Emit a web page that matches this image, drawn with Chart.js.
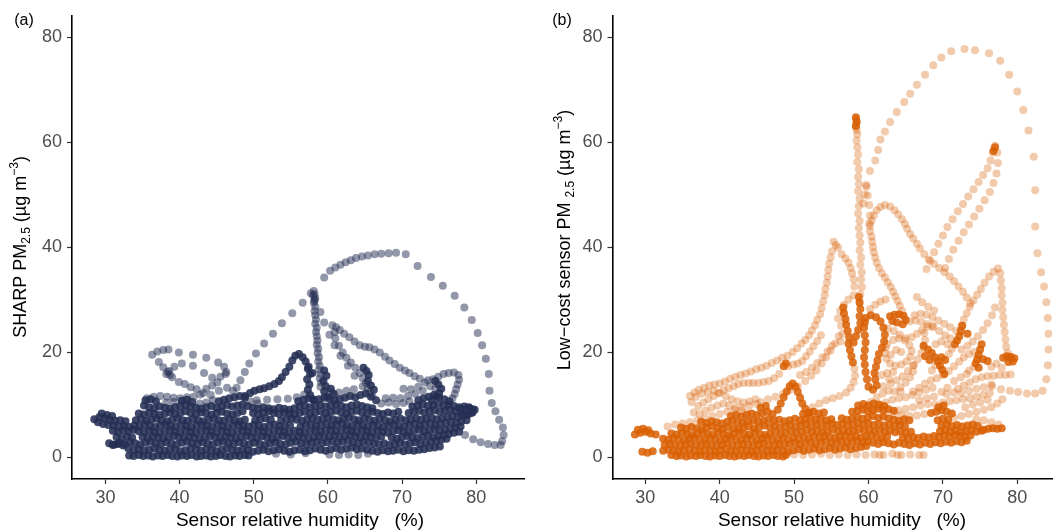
<!DOCTYPE html>
<html>
<head>
<meta charset="utf-8">
<script src="https://cdn.jsdelivr.net/npm/chart.js@4.4.0/dist/chart.umd.min.js"></script>
<style>
html, body { margin: 0; padding: 0; background: #fff; }
#wrap { position: relative; width: 1056px; height: 532px; overflow: hidden; }
.panel { position: absolute; top: 0; width: 528px; height: 532px; }
</style>
</head>
<body>
<div id="wrap">
  <div class="panel" style="left:0"><canvas id="sharpChart" width="528" height="532"></canvas></div>
  <div class="panel" style="left:528px"><canvas id="lcsChart" width="528" height="532"></canvas></div>
</div>
<script>
// tick labels
const rhTicks = [30, 40, 50, 60, 70, 80];
const pmTicks = [0, 20, 40, 60, 80];

// ---- (a) SHARP PM2.5 vs sensor RH, [rh, pm] ----
const sharpArc = [[47.7,13.2],[48.2,14.6],[48.8,16.2],[49.4,17.8],[50.3,19.7],[51.4,21.6],[52.6,23.5],[53.8,25.5],[55.2,27.4],[56.6,29.4],[57.7,31.2],[59.5,34.2],[60.3,35.5],[61.0,36.1],[61.7,36.6],[62.4,37.1],[63.1,37.5],[63.8,37.9],[64.6,38.2],[65.4,38.4],[66.3,38.6],[67.2,38.7],[68.2,38.8],[69.2,38.9],[70.5,38.6],[72.1,36.4],[73.9,34.3],[75.5,32.6],[77.1,30.7],[78.4,28.5],[79.4,26.1],[80.2,23.6],[80.8,21.3],[81.3,18.7],[81.7,15.8],[81.8,12.6],[82.1,10.3],[82.6,8.7],[83.1,7.1],[83.6,5.6],[83.7,4.2],[83.5,3.0],[83.3,2.3],[82.5,2.3],[81.6,2.5],[80.6,2.8],[79.6,3.4],[78.5,4.2]];
const sharpSpike = [[58.1,31.6],[58.0,30.8],[58.2,30.0],[58.1,29.4],[58.3,28.6],[58.2,27.8],[58.3,27.0],[58.4,26.2],[58.3,25.4],[58.5,24.6],[58.4,23.8],[58.5,23.0],[58.6,22.2],[58.5,21.4],[58.7,20.6],[58.6,19.8],[58.8,19.0],[58.7,18.2],[58.9,17.4],[58.8,16.6],[59.0,15.8],[58.9,15.0],[59.1,14.2],[59.0,13.4],[58.2,31.0],[58.3,30.3],[58.2,29.7],[59.0,27.6],[59.5,25.6],[60.2,23.3],[60.9,21.3],[61.7,19.3],[62.7,17.4],[63.6,15.5],[64.7,13.5],[66.0,11.6]];
const sharpRidge = [[60.6,25.1],[61.1,24.7],[61.6,24.2],[62.2,23.5],[62.9,22.8],[63.6,22.0],[64.3,21.3],[65.0,21.0],[65.6,20.9],[66.3,20.5],[67.0,19.9],[67.7,19.1],[68.3,18.4],[69.0,17.7],[69.7,17.0],[70.4,16.5],[71.0,16.0],[71.7,15.4],[72.4,14.9],[73.1,14.2],[73.8,13.5],[74.5,13.0],[60.9,23.8],[61.0,22.6],[61.5,21.2],[62.0,19.9],[62.5,18.9],[63.1,18.0],[63.7,17.0],[64.3,16.0],[64.7,15.0],[65.1,14.1],[65.4,13.1],[65.6,12.2]];
const sharpUpperLeft = [[36.3,19.5],[37.0,20.1],[37.8,20.4],[38.5,20.5],[39.9,19.9],[41.8,19.5],[43.6,18.9],[45.2,18.0],[46.0,17.2],[46.3,16.2],[37.2,18.1],[37.8,17.1],[38.6,16.4],[39.3,17.2],[40.3,17.8],[41.8,17.4],[43.3,16.0],[44.4,15.1],[45.5,15.3],[46.2,15.8],[38.2,15.8],[39.0,15.2],[39.9,14.3],[40.7,13.9],[41.5,13.3],[42.3,12.9],[43.2,12.2],[44.2,11.8],[45.3,12.6],[46.4,13.2],[47.2,12.6],[35.6,11.2],[36.5,11.5],[37.4,11.6],[38.3,11.5],[39.2,11.3],[40.1,11.2],[41.0,11.4],[41.9,11.5],[42.8,11.9],[43.6,13.0],[44.4,13.6],[45.1,14.2],[38.4,16.2],[38.7,15.6]];
const sharpRight = [[50.4,10.8],[51.8,10.9],[53.2,11.0],[54.6,11.1],[55.8,11.4],[56.8,11.9],[73.5,14.6],[74.2,14.8],[74.9,15.3],[75.6,15.8],[76.3,16.0],[77.0,16.1],[77.6,15.6],[77.7,14.7],[77.5,13.8],[77.3,12.9],[77.1,12.0],[76.8,11.2],[67.8,11.2],[68.8,11.3],[69.8,11.2],[70.8,11.6],[71.8,12.0],[72.8,12.6],[70.2,13.0],[71.2,12.9],[72.2,13.4],[53.0,0.6],[55.0,0.5],[57.0,0.7],[60.2,0.5],[61.5,0.4],[62.8,0.5],[64.1,0.4],[65.4,0.6]];
const sharpFringe = [[44.5,10.8],[43.6,10.4],[42.7,10.2],[38.2,10.4],[39.2,10.5],[49.5,10.6],[50.5,10.2],[67.2,10.2],[68.2,10.4],[69.2,10.1],[70.2,10.3],[71.0,10.6],[60.5,12.4],[61.5,12.3],[62.5,12.6],[63.5,12.9]];
const sharpDark = [[48.8,11.6],[49.5,12.2],[50.1,12.6],[50.8,12.9],[51.4,13.1],[52.1,13.5],[52.8,13.9],[53.4,14.5],[53.8,15.2],[54.3,16.2],[54.8,17.2],[55.2,18.4],[55.6,19.3],[56.1,19.6],[56.6,19.0],[57.0,18.2],[57.4,17.2],[57.9,16.0],[57.3,16.8],[57.6,15.8],[57.2,14.8],[57.5,13.8],[57.3,12.8],[57.6,11.8],[58.0,11.0],[59.5,16.5],[59.8,15.5],[59.4,14.5],[59.7,13.5],[59.5,12.5],[59.9,11.5],[60.4,13.0],[60.8,12.0],[64.8,17.0],[65.2,16.4],[65.5,15.6],[65.4,14.5],[65.8,13.6],[66.2,12.8],[74.5,14.5],[74.9,13.8],[75.3,13.0],[75.0,12.2],[74.6,11.5],[74.0,10.8],[77.8,9.2],[78.4,9.6],[79.0,9.5],[79.5,9.1],[79.3,8.4],[78.7,8.0],[78.0,8.2]];
const sharpCore0 = [[33.2,0.3],[33.8,0.2],[34.5,0.4],[35.1,0.2],[35.8,0.3],[36.4,0.1],[37.1,0.3],[37.7,0.2],[38.4,0.4],[39.0,0.2],[39.7,0.1],[40.3,0.3],[41.0,0.2],[41.6,0.4],[42.3,0.1],[42.9,0.2],[43.6,0.3],[44.2,0.1],[44.9,0.2],[45.5,0.4],[46.2,0.2],[46.8,0.1],[47.5,0.3],[48.1,0.2],[48.8,0.4],[49.3,0.3]];
const sharpCore1 = [[31.0,2.3],[31.7,2.5],[32.4,2.2],[33.1,1.6],[33.8,1.3],[34.5,1.5],[35.2,1.2],[35.9,1.4],[36.6,1.6],[37.3,1.3],[38.0,1.2],[38.7,1.5],[39.4,1.4],[40.1,1.1],[40.8,1.3],[41.5,1.6],[42.2,1.4],[42.9,1.2],[43.6,1.5],[44.3,1.3],[45.0,1.1],[45.7,1.4],[46.4,1.6],[47.1,1.3],[47.8,1.2],[48.5,1.5],[49.2,1.3],[49.9,1.0],[50.6,1.2],[51.3,1.4],[52.0,1.1],[52.7,1.3],[53.4,1.5],[54.1,1.2],[54.8,1.0],[55.5,1.3],[56.2,1.4],[56.9,1.1],[57.6,1.3],[58.3,1.6],[59.0,1.4],[59.7,1.2],[60.4,1.5],[61.1,1.7],[61.8,1.4],[62.5,1.6],[63.2,1.8],[63.9,1.5],[64.6,1.6],[65.3,1.4],[66.0,1.2],[66.7,1.0],[67.4,1.3],[68.1,1.1],[68.8,1.2],[69.5,1.4],[70.2,1.1],[70.9,1.3],[71.6,1.2],[72.3,1.4],[73.0,1.5],[73.7,1.7],[74.4,1.8],[75.1,2.0]];
const sharpCore2 = [[30.5,2.6],[31.2,2.4],[31.9,2.7],[32.6,2.5],[33.3,2.8],[34.0,2.6],[34.7,2.4],[35.4,2.7],[36.1,2.9],[36.8,2.6],[37.5,2.5],[38.2,2.8],[38.9,2.6],[39.6,2.4],[40.3,2.7],[41.0,2.9],[41.7,2.6],[42.4,2.5],[43.1,2.8],[43.8,2.6],[44.5,2.4],[45.2,2.7],[45.9,2.9],[46.6,2.6],[47.3,2.5],[48.0,2.8],[48.7,2.6],[49.4,2.4],[50.1,2.7],[50.8,2.5],[51.5,2.3],[52.2,2.6],[52.9,2.8],[53.6,2.5],[54.3,2.4],[55.0,2.7],[55.7,2.9],[56.4,2.6],[57.1,2.4],[57.8,2.7],[58.5,2.9],[59.2,2.6],[59.9,2.8],[60.6,3.0],[61.3,2.7],[62.0,2.9],[62.7,3.1],[63.4,2.8],[64.1,2.6],[64.8,2.9],[65.5,2.7],[66.2,2.5],[66.9,2.4],[67.6,2.6],[68.3,2.3],[69.0,2.5],[69.7,2.7],[70.4,2.4],[71.1,2.6],[71.8,2.8],[72.5,2.5],[73.2,2.7],[73.9,2.9],[74.6,3.1],[75.3,3.3],[76.0,3.5]];
const sharpCore3 = [[31.5,3.8],[32.2,3.6],[32.9,3.9],[33.6,3.7],[35.0,3.8],[35.7,3.6],[36.4,3.9],[37.1,3.7],[37.8,3.5],[38.5,3.8],[39.2,4.0],[39.9,3.7],[40.6,3.6],[41.3,3.9],[42.0,3.7],[42.7,3.5],[43.4,3.8],[44.1,4.0],[44.8,3.7],[45.5,3.6],[46.2,3.9],[46.9,3.7],[47.6,3.5],[48.3,3.8],[49.0,4.0],[49.7,3.7],[50.4,3.6],[51.1,3.9],[51.8,3.7],[52.5,3.5],[53.2,3.8],[53.9,4.0],[54.6,3.7],[55.3,3.6],[56.0,3.9],[56.7,3.7],[57.4,3.5],[58.1,3.8],[58.8,4.0],[59.5,3.7],[60.2,3.9],[60.9,4.1],[61.6,3.8],[62.3,4.0],[63.0,4.2],[63.7,3.9],[64.4,3.7],[65.1,4.0],[65.8,3.8],[66.5,3.6],[67.2,3.9],[68.6,3.7],[69.3,3.5],[70.0,3.8],[70.7,4.0],[71.4,3.7],[72.1,3.6],[72.8,3.9],[73.5,4.1],[74.2,3.8],[74.9,4.0],[75.6,4.2],[76.3,4.4],[77.0,4.6],[77.7,4.8]];
const sharpCore4 = [[31.0,5.0],[31.7,4.8],[32.4,5.1],[33.1,4.9],[33.8,5.2],[34.5,4.9],[35.2,4.7],[35.9,5.0],[36.6,4.8],[37.3,4.6],[38.0,4.9],[38.7,5.1],[39.4,4.8],[40.1,4.7],[40.8,5.0],[41.5,4.8],[42.2,4.6],[42.9,4.9],[43.6,5.1],[44.3,4.8],[45.0,4.7],[45.7,5.0],[46.4,4.8],[47.1,4.6],[47.8,4.9],[48.5,5.1],[49.2,4.8],[49.9,4.7],[50.6,5.0],[51.3,4.8],[52.0,4.6],[52.7,4.9],[53.4,5.1],[54.1,4.8],[54.8,4.7],[55.5,5.0],[56.2,4.8],[56.9,4.6],[57.6,4.9],[58.3,5.1],[59.0,4.8],[59.7,5.0],[60.4,5.2],[61.1,4.9],[61.8,5.1],[62.5,5.3],[63.2,5.0],[63.9,4.8],[64.6,5.1],[65.3,4.9],[66.0,4.7],[66.7,5.0],[67.4,4.8],[68.1,4.6],[68.8,4.9],[69.5,5.1],[70.2,4.8],[70.9,4.7],[71.6,5.0],[72.3,5.2],[73.0,4.9],[73.7,5.1],[74.4,5.3],[75.1,5.0],[75.8,5.2],[76.5,5.4],[77.2,5.6],[77.9,5.8]];
const sharpCore5 = [[29.0,6.6],[29.7,6.3],[30.4,6.1],[31.1,6.0],[31.8,5.8],[32.5,5.9],[33.2,5.7],[33.9,6.0],[34.6,5.8],[35.3,6.1],[36.0,5.9],[36.7,5.7],[37.4,6.0],[38.1,6.2],[38.8,5.9],[39.5,5.8],[40.2,6.1],[40.9,5.9],[41.6,5.7],[42.3,6.0],[43.0,6.2],[43.7,5.9],[44.4,5.8],[45.1,6.1],[45.8,5.9],[46.5,5.7],[47.2,6.0],[47.9,6.2],[48.6,5.9],[49.3,5.8],[50.0,6.1],[50.7,5.9],[51.4,5.7],[52.1,6.0],[52.8,6.2],[53.5,5.9],[54.2,5.8],[54.9,6.1],[56.3,5.7],[57.0,6.0],[57.7,6.2],[58.4,5.9],[59.1,6.1],[59.8,6.3],[60.5,6.0],[61.2,6.2],[61.9,6.4],[62.6,6.1],[63.3,5.9],[64.0,6.2],[64.7,6.0],[65.4,5.8],[66.1,6.1],[66.8,5.9],[67.5,5.7],[68.2,6.0],[68.9,6.2],[69.6,5.9],[70.3,5.8],[71.0,6.1],[71.7,6.3],[72.4,6.0],[73.1,6.2],[73.8,6.4],[74.5,6.1],[75.2,6.3],[75.9,6.5],[76.6,6.7],[77.3,6.5],[78.0,6.8],[78.7,7.0]];
const sharpCore6 = [[28.5,7.2],[29.2,7.6],[29.9,7.4],[30.6,7.1],[31.3,6.9],[32.0,7.0],[32.7,6.8],[34.1,7.0],[34.8,7.2],[35.5,6.9],[36.2,7.1],[36.9,7.3],[37.6,7.0],[38.3,6.8],[39.0,7.1],[39.7,7.3],[40.4,7.0],[41.1,6.9],[41.8,7.2],[42.5,7.0],[43.2,6.8],[43.9,7.1],[44.6,7.3],[45.3,7.0],[46.0,6.9],[46.7,7.2],[47.4,7.0],[48.1,6.8],[48.8,7.1],[50.2,7.0],[50.9,7.2],[51.6,7.4],[52.3,7.1],[53.7,7.0],[54.4,7.2],[55.1,7.4],[55.8,7.1],[56.5,6.9],[57.2,7.2],[57.9,7.4],[58.6,7.1],[59.3,7.3],[60.0,7.5],[60.7,7.2],[61.4,7.0],[62.1,7.3],[62.8,7.5],[63.5,7.2],[64.2,7.0],[64.9,7.3],[65.6,7.1],[66.3,6.9],[67.0,7.2],[67.7,7.0],[68.4,6.8],[69.1,7.1],[69.8,7.3],[70.5,7.0],[71.2,7.2],[71.9,7.4],[72.6,7.1],[73.3,7.3],[74.0,7.5],[74.7,7.2],[75.4,7.4],[76.1,7.6],[76.8,7.8],[77.5,7.6],[78.2,7.9],[78.9,8.1],[79.5,8.5]];
const sharpCore7 = [[29.5,8.3],[30.2,8.0],[30.9,7.8],[34.5,8.3],[35.2,8.1],[35.9,8.4],[36.6,8.2],[37.3,8.0],[38.0,8.3],[38.7,8.5],[39.4,8.2],[40.1,8.4],[40.8,8.7],[41.5,8.4],[42.2,8.2],[42.9,8.5],[43.6,8.3],[44.3,8.1],[45.0,8.4],[45.7,8.6],[46.4,8.3],[47.1,8.1],[47.8,8.4],[48.5,8.7],[49.9,8.4],[50.6,8.2],[51.3,8.5],[52.0,8.7],[52.7,8.4],[53.4,8.2],[54.1,8.5],[54.8,8.3],[55.5,8.1],[56.2,8.4],[56.9,8.6],[57.6,8.3],[58.3,8.5],[59.0,8.7],[59.7,8.4],[60.4,8.6],[61.1,8.8],[61.8,8.5],[62.5,8.3],[63.2,8.6],[63.9,8.8],[64.6,8.5],[65.3,8.3],[66.0,8.6],[66.7,8.4],[67.4,8.2],[68.1,8.5],[68.8,8.3],[69.5,8.6],[70.9,8.4],[71.6,8.6],[72.3,8.8],[73.0,8.5],[73.7,8.7],[74.4,8.9],[75.1,8.6],[75.8,8.8],[76.5,9.0],[77.2,8.8],[79.8,9.0]];
const sharpCore8 = [[35.2,9.8],[35.9,9.5],[36.6,9.3],[37.3,9.6],[38.0,9.4],[38.7,9.2],[39.4,9.5],[40.1,9.7],[40.8,9.9],[41.5,9.6],[42.2,9.4],[42.9,9.2],[43.6,9.5],[44.3,9.7],[45.0,9.4],[45.7,9.6],[46.4,9.9],[47.1,9.6],[47.8,9.8],[48.5,10.0],[49.2,9.7],[49.9,9.4],[50.6,9.2],[51.3,9.5],[52.0,9.3],[52.7,9.1],[53.4,9.4],[54.1,9.2],[54.8,9.0],[55.5,9.3],[56.2,9.6],[56.9,9.8],[57.6,9.5],[58.3,9.7],[59.0,9.9],[59.7,9.6],[60.4,9.8],[61.1,10.0],[61.8,9.7],[62.5,9.5],[63.2,9.8],[63.9,10.0],[64.6,9.7],[65.3,9.5],[66.0,9.3],[71.4,9.6],[72.1,9.8],[72.8,10.0],[73.5,9.7],[74.2,9.9],[74.9,10.1],[75.6,9.8],[76.3,10.0],[77.0,9.7],[77.7,9.5],[78.4,9.1],[79.1,9.3]];
const sharpCore9 = [[35.4,10.8],[36.1,11.0],[36.8,10.6],[40.3,10.7],[41.0,10.9],[41.7,10.5],[45.3,10.6],[46.0,10.9],[46.7,11.2],[47.4,11.4],[48.1,11.6],[48.8,11.3],[56.0,10.6],[56.7,10.9],[57.4,11.2],[58.1,10.8],[58.8,11.0],[59.5,11.3],[60.2,11.1],[60.9,10.8],[61.6,11.0],[62.3,11.3],[63.0,11.6],[63.7,11.4],[64.4,11.8],[65.1,12.1],[65.8,11.5],[66.5,10.8],[72.2,10.8],[72.9,11.2],[73.6,11.5],[74.3,11.8],[75.0,11.4],[75.7,11.0],[76.4,10.6]];

// ---- (b) low-cost sensor PM2.5 vs sensor RH ----
const lcsArc = [[59.3,48.3],[59.5,50.0],[59.7,51.8],[60.2,54.5],[60.9,56.5],[61.3,58.5],[61.6,60.5],[62.2,62.0],[62.9,63.8],[63.8,65.7],[64.8,67.6],[65.6,69.2],[66.5,70.9],[67.6,72.8],[68.7,74.6],[69.8,76.1],[71.1,77.3],[72.9,77.7],[74.3,77.5],[76.2,76.9],[77.7,75.5],[78.9,72.8],[80.0,69.6],[80.8,66.1],[81.5,62.2],[82.2,57.2],[82.4,50.8],[82.4,43.9],[82.7,38.8],[83.2,35.2],[83.6,32.5],[83.9,29.5],[84.1,26.5],[84.2,23.5],[84.2,20.5],[84.1,17.5],[83.9,14.8],[83.4,12.6],[82.4,12.1],[81.3,12.1],[80.1,12.4],[79.0,12.6],[77.8,12.9],[76.6,13.5]];
const lcsColumn = [[58.3,64.8],[58.4,64.0],[58.3,63.2],[58.4,62.3],[58.5,61.5],[58.4,60.3],[58.5,59.0],[58.6,57.6],[58.5,56.2],[58.7,54.8],[58.6,53.4],[58.7,52.0],[58.6,50.6],[58.8,49.2],[58.7,47.8],[58.6,46.4],[58.8,45.0],[58.7,43.6],[58.8,42.2],[58.9,40.8],[58.8,39.4],[59.0,38.0],[58.9,36.6],[59.1,35.2],[59.0,33.8],[59.1,32.4],[58.9,31.0],[58.8,29.6],[59.7,51.5],[59.9,49.8],[60.1,48.0],[60.2,46.0],[60.1,44.5]];
const lcsLoop = [[62.2,48.0],[61.6,47.6],[61.1,47.0],[60.7,46.0],[60.4,45.0],[60.2,44.0],[60.2,43.0],[60.4,42.0],[60.5,41.0],[60.6,40.0],[60.7,39.0],[60.9,38.0],[61.1,37.0],[61.4,36.0],[61.8,35.0],[62.2,34.2],[62.6,33.3],[63.0,32.4],[63.3,31.5],[63.6,30.6],[63.9,29.7],[64.2,28.8],[64.5,27.8],[62.9,47.7],[63.5,47.0],[64.0,46.2],[64.5,45.3],[64.9,44.4],[65.2,43.5],[65.6,42.5],[66.0,41.6],[66.5,40.6],[66.9,39.7],[67.5,38.6],[68.1,37.6],[68.8,36.8],[69.5,36.0],[70.2,35.2],[70.9,34.4],[71.5,33.5],[72.1,32.5],[72.7,31.5],[73.2,30.4],[73.7,29.3]];
const lcsRise = [[77.0,59.3],[76.7,58.0],[76.4,56.5],[76.0,55.0],[75.4,53.7],[74.8,52.4],[74.1,51.0],[73.4,49.6],[72.7,48.2],[72.0,46.8],[71.3,45.3],[70.6,43.8],[70.0,42.2],[69.4,40.6],[68.8,39.0],[68.3,37.4],[67.8,35.8],[77.3,58.0],[77.4,56.0],[77.2,54.0],[76.8,52.2],[76.3,50.5],[75.6,48.9],[74.9,47.3],[74.2,45.8],[73.5,44.3],[72.8,42.8],[72.1,41.2],[71.4,39.5],[70.8,37.7],[70.3,36.0],[77.4,35.9],[76.8,35.3],[76.2,34.4],[75.6,33.2],[75.1,32.0],[74.6,30.9],[74.1,29.8],[73.6,28.6],[73.2,27.4],[72.8,26.2],[72.5,25.0],[77.7,35.0],[77.8,33.6],[77.9,32.2],[77.9,30.8],[78.0,29.4],[78.0,28.0],[78.1,26.6],[78.2,25.2],[78.3,23.8],[78.4,22.4],[78.5,21.0],[78.7,19.8],[79.0,18.8]];
const lcsPeak = [[55.3,41.0],[55.6,40.4],[55.9,39.9],[55.1,39.2],[54.9,38.0],[54.7,36.8],[54.6,35.6],[54.5,34.4],[54.4,33.2],[54.2,32.0],[54.1,30.8],[53.9,29.6],[53.7,28.4],[53.5,27.2],[53.1,26.1],[52.8,25.1],[52.4,24.1],[52.0,23.2],[51.5,22.3],[51.0,21.6],[50.4,20.7],[49.8,20.0],[49.1,19.3],[48.4,18.9],[47.7,18.4],[47.0,17.9],[46.3,17.4],[45.6,17.0],[44.9,16.7],[44.2,16.3],[43.5,15.9],[42.8,15.6],[42.1,15.3],[41.4,14.9],[40.7,14.4],[40.0,14.0],[39.3,13.8],[38.6,13.6],[37.9,13.2],[37.2,12.8],[36.6,12.3],[36.0,11.6],[56.4,38.6],[56.9,37.8],[57.3,37.0],[57.6,36.0],[57.8,35.0],[58.0,33.8],[58.1,32.5]];
const lcsDiag = [[37.1,9.7],[37.8,10.4],[38.5,11.0],[39.2,11.6],[39.8,12.2],[40.5,12.7],[41.2,13.1],[41.9,13.5],[42.5,13.9],[43.2,14.1],[43.9,14.1],[44.5,14.1],[45.2,14.1],[45.9,14.3],[46.6,14.5],[47.3,15.0],[48.0,15.8],[49.2,17.3],[49.9,17.6],[50.5,17.8],[51.1,18.3],[51.6,19.2],[52.1,20.1],[52.6,21.1],[53.1,22.1],[53.6,23.2],[45.5,10.5],[46.5,11.0],[47.5,11.5],[48.5,12.0],[49.5,12.8],[50.5,13.5],[51.5,14.5],[52.3,15.5],[53.0,16.5],[53.7,17.8],[54.3,19.0],[54.9,20.3],[55.5,21.6],[56.0,23.0],[36.2,10.5],[36.8,11.5],[37.6,12.1],[38.4,12.4],[39.2,12.6],[40.0,12.2],[40.8,11.6],[41.6,11.0],[42.4,10.6],[43.2,10.4],[44.0,10.6],[44.8,11.0],[36.5,8.5],[37.3,8.2],[38.1,8.8],[38.9,9.4],[39.7,9.8],[40.5,10.2],[41.3,9.8],[42.1,9.3],[42.9,8.8],[43.7,8.4]];
const lcsLoops = [[62.5,21.5],[63.3,22.3],[64.1,22.6],[64.9,22.2],[65.5,21.3],[65.8,20.2],[65.6,19.1],[65.1,18.2],[64.4,17.6],[63.6,17.4],[62.9,17.8],[62.4,18.7],[62.2,19.8],[62.3,20.8],[66.0,12.5],[66.8,13.2],[67.6,14.0],[68.4,14.6],[69.2,15.0],[70.0,15.6],[70.8,16.4],[71.5,17.3],[72.2,18.2],[72.8,19.0],[73.5,19.6],[74.2,20.0],[65.5,25.8],[66.3,26.0],[67.1,25.7],[67.9,25.3],[68.7,24.7],[69.5,24.0],[70.3,23.2],[71.0,22.6],[63.5,12.5],[64.3,13.3],[65.0,14.2],[65.6,15.2],[66.0,16.3],[66.1,17.5],[72.0,13.0],[72.8,13.6],[73.6,14.2],[74.4,14.8],[75.2,15.2],[76.0,15.4],[76.8,15.5],[77.6,15.6],[78.4,15.6],[79.1,15.7],[70.0,10.4],[70.9,10.6],[71.8,10.8],[72.7,11.0],[73.6,11.2],[74.5,11.5],[75.4,11.8],[76.3,12.2],[56.2,22.0],[56.5,23.5],[56.3,25.0],[55.9,26.4],[56.2,27.8],[56.7,29.0],[57.3,30.0],[58.0,30.8],[59.5,9.5],[60.3,10.5],[61.1,11.4],[61.9,12.1],[62.7,12.6],[64.3,12.5],[62.6,24.5],[63.4,24.0],[64.2,23.3],[65.0,22.6],[65.8,22.8],[66.5,23.5],[67.2,24.2],[67.9,24.8],[68.6,25.0],[52.5,9.5],[53.4,10.2],[54.3,10.8],[55.2,11.2],[56.1,11.6],[57.0,12.3],[57.6,13.2],[58.0,14.3],[58.2,15.5],[58.1,16.8],[50.0,0.5],[51.2,0.4],[52.4,0.5],[53.6,0.6],[54.8,0.4],[56.0,0.5],[57.2,0.4],[58.4,0.5],[59.6,0.4],[60.8,0.5],[61.5,0.4],[62.0,0.4],[63.2,0.6],[63.9,0.4],[64.4,0.4],[65.6,0.5],[66.8,0.4],[67.4,0.4]];
const lcsFill = [[60.5,9.0],[61.4,9.8],[62.3,10.4],[63.2,10.9],[64.1,11.2],[65.0,11.4],[65.9,11.8],[66.8,12.3],[67.7,12.8],[68.6,13.2],[63.0,14.0],[63.8,14.6],[64.6,15.4],[65.3,16.4],[66.0,17.5],[66.6,18.6],[67.1,19.8],[67.4,21.0],[67.6,22.3],[67.5,23.6],[66.2,27.0],[67.0,27.3],[67.8,27.1],[68.6,26.6],[69.4,26.0],[70.2,25.4],[71.0,24.7],[71.8,24.0],[72.5,20.5],[73.3,21.2],[74.0,22.0],[74.7,23.0],[75.4,24.2],[76.0,25.5],[76.6,27.0],[77.0,28.5],[64.0,8.9],[65.0,9.2],[66.0,9.5],[67.0,9.8],[68.0,10.1],[69.0,10.0],[70.5,12.0],[71.5,12.3],[72.5,12.2],[73.5,12.6],[74.5,13.0],[75.5,13.3],[76.5,13.8],[50.8,15.6],[51.6,16.2],[52.4,17.0],[53.1,17.9],[53.8,19.0],[54.5,20.1],[55.1,21.2],[33.0,5.8],[34.0,6.2],[35.0,6.4],[36.0,6.6],[37.0,7.0],[38.0,7.4],[39.0,7.8],[40.0,8.2],[41.0,8.6],[42.0,9.0],[43.0,9.4],[44.0,9.8],[45.0,10.1],[63.0,19.5],[63.7,20.4],[64.4,20.0],[69.0,21.5],[69.8,22.0],[70.6,21.5],[71.2,20.6],[70.8,19.6],[73.5,16.5],[74.2,17.2],[76.5,17.2],[77.2,17.8],[77.9,17.0],[66.5,30.5],[67.2,29.5],[68.0,28.6],[68.8,27.9],[60.2,28.2],[60.9,29.0],[61.6,29.6],[62.3,30.0],[62.5,16.0],[63.3,16.2],[68.5,16.5],[69.0,17.5],[71.5,14.5],[72.4,15.2],[73.2,15.8],[63.5,8.2],[64.5,8.0],[65.5,7.8],[66.5,7.9],[67.5,8.2],[71.5,7.5],[72.5,7.8],[73.5,8.2],[74.5,8.6],[75.5,9.0],[76.5,9.5],[77.3,10.2],[78.0,11.0],[73.0,9.5],[74.0,10.0],[75.0,10.4],[76.0,10.9],[62.0,13.5],[62.8,14.8],[61.8,15.6],[66.8,10.8],[67.8,11.2],[68.8,11.5],[69.8,12.4],[70.6,13.2],[77.5,6.2],[76.5,6.6],[75.5,7.0],[74.5,7.2]];
const lcsDark = [[47.8,9.0],[48.2,10.2],[48.6,11.4],[49.0,12.5],[49.4,13.5],[49.8,14.0],[50.2,13.4],[50.5,12.4],[50.8,11.3],[51.1,10.2],[51.5,9.2],[52.0,8.5],[48.6,17.3],[48.9,17.8],[56.6,28.5],[56.7,27.4],[56.9,26.3],[57.0,25.2],[57.2,24.0],[57.4,22.8],[57.3,21.6],[57.5,20.4],[57.7,19.2],[57.9,18.0],[58.7,30.5],[58.8,29.4],[58.9,28.2],[58.8,26.8],[58.9,25.5],[58.6,24.2],[58.3,23.0],[58.0,21.8],[59.6,26.5],[60.3,27.0],[61.0,26.6],[61.6,25.8],[62.0,24.6],[62.2,23.3],[62.1,22.0],[61.8,20.8],[61.4,19.6],[61.2,18.4],[61.0,17.2],[60.8,16.0],[60.9,14.8],[61.1,13.6],[60.6,12.8],[60.0,13.4],[59.8,14.8],[59.6,16.2],[59.5,17.6],[59.4,19.0],[59.5,20.4],[59.6,21.8],[59.5,23.2],[59.4,24.6],[59.5,25.6],[62.9,26.8],[63.5,27.1],[64.1,27.2],[64.7,26.9],[65.0,26.1],[64.6,25.3],[63.8,25.6],[63.2,25.9],[67.4,21.2],[68.0,20.5],[68.5,19.8],[68.9,19.0],[69.3,18.2],[69.6,17.4],[69.9,16.6],[70.2,15.8],[68.2,18.5],[67.6,19.2],[69.8,19.0],[70.3,18.5],[72.6,25.0],[72.4,24.0],[72.2,23.0],[71.9,22.2],[71.6,21.5],[73.3,23.5],[75.2,21.5],[75.0,20.5],[74.8,19.5],[74.6,18.6],[74.4,17.8],[74.8,17.0],[75.4,18.6],[76.0,18.3],[78.1,18.9],[78.6,19.2],[79.1,19.1],[79.6,18.8],[79.4,18.2],[78.8,18.1],[75.5,5.2],[76.1,5.4],[76.7,5.5],[77.3,5.4],[77.9,5.5],[58.3,64.6],[58.4,63.8],[58.3,63.0],[77.0,59.0],[76.8,58.3]];
const lcsCore0 = [[33.5,0.4],[34.2,0.2],[34.8,0.3],[35.5,0.1],[36.1,0.3],[36.8,0.2],[37.4,0.4],[38.1,0.2],[38.7,0.1],[39.4,0.3],[40.0,0.2],[40.7,0.4],[41.3,0.2],[42.0,0.1],[42.6,0.3],[43.3,0.2],[43.9,0.4],[44.6,0.2],[45.2,0.1],[45.9,0.3],[46.5,0.2],[47.2,0.4],[47.8,0.2],[48.5,0.1],[48.9,0.4]];
const lcsCore1 = [[29.6,1.0],[30.3,0.8],[31.0,1.1],[32.4,1.2],[33.1,1.4],[33.8,1.2],[34.5,1.0],[35.2,1.3],[35.9,1.5],[36.6,1.2],[37.3,1.1],[38.0,1.4],[38.7,1.2],[39.4,1.0],[40.1,1.3],[40.8,1.5],[41.5,1.2],[42.2,1.1],[42.9,1.4],[43.6,1.2],[44.3,1.0],[45.0,1.3],[45.7,1.5],[46.4,1.2],[47.1,1.1],[47.8,1.4],[48.5,1.2],[49.2,1.0],[49.9,1.3],[50.6,1.5],[51.3,1.2],[52.0,1.4],[52.7,1.6],[53.4,1.3],[54.1,1.5],[54.8,1.7],[55.5,1.4],[56.2,1.6],[56.9,1.8],[57.6,1.5],[58.3,1.7],[59.0,1.9],[59.7,2.1]];
const lcsCore2 = [[32.6,2.3],[33.3,2.5],[34.0,2.3],[34.7,2.1],[35.4,2.4],[36.1,2.6],[36.8,2.3],[37.5,2.2],[38.2,2.5],[38.9,2.3],[39.6,2.1],[40.3,2.4],[41.0,2.6],[41.7,2.3],[42.4,2.2],[43.1,2.5],[43.8,2.3],[44.5,2.1],[45.2,2.4],[45.9,2.6],[46.6,2.3],[47.3,2.2],[48.0,2.5],[48.7,2.3],[49.4,2.5],[50.1,2.7],[50.8,2.4],[51.5,2.6],[52.2,2.8],[52.9,2.5],[53.6,2.7],[54.3,2.9],[55.0,2.6],[55.7,2.8],[56.4,3.0],[57.1,2.7],[57.8,2.9],[58.5,3.1],[59.2,2.8],[59.9,3.0],[60.6,2.7],[61.3,2.5],[62.0,2.8],[62.7,2.6],[63.4,2.4],[64.1,2.7],[64.8,2.5],[65.5,2.3],[66.2,2.6],[66.9,2.4],[67.6,2.7],[68.3,2.5],[69.0,2.8],[69.7,2.6],[70.4,2.9],[71.1,2.7],[71.8,3.0],[72.5,2.8],[73.2,3.1]];
const lcsCore3 = [[32.4,3.5],[33.1,3.3],[33.8,3.6],[34.5,3.4],[35.2,3.2],[35.9,3.5],[36.6,3.7],[37.3,3.4],[38.0,3.3],[38.7,3.6],[39.4,3.4],[40.1,3.2],[40.8,3.5],[41.5,3.7],[42.2,3.4],[42.9,3.3],[43.6,3.6],[44.3,3.4],[45.0,3.2],[45.7,3.5],[46.4,3.7],[47.1,3.4],[47.8,3.3],[48.5,3.6],[49.2,3.4],[49.9,3.7],[50.6,3.5],[51.3,3.8],[52.0,3.6],[52.7,3.9],[53.4,3.7],[54.1,4.0],[54.8,3.8],[55.5,3.6],[56.2,3.9],[56.9,4.1],[57.6,3.8],[58.3,4.0],[59.0,3.7],[59.7,3.9],[60.4,4.1],[61.1,3.8],[61.8,3.6],[62.5,3.9],[64.6,3.7],[65.3,3.5],[66.0,3.8],[66.7,3.6],[67.4,3.9],[68.1,3.7],[68.8,4.0],[69.5,3.8],[70.2,4.1],[70.9,3.9],[71.6,4.2],[72.3,4.0],[73.0,3.8],[73.7,4.1]];
const lcsCore4 = [[28.6,4.3],[29.3,4.6],[30.0,4.8],[30.7,4.5],[31.4,4.3],[33.5,4.5],[34.2,4.3],[34.9,4.6],[35.6,4.4],[36.3,4.2],[37.0,4.5],[37.7,4.7],[38.4,4.4],[39.1,4.3],[39.8,4.6],[40.5,4.4],[41.2,4.2],[41.9,4.5],[42.6,4.7],[43.3,4.4],[44.0,4.3],[44.7,4.6],[45.4,4.4],[46.1,4.2],[46.8,4.5],[47.5,4.7],[48.2,4.4],[48.9,4.6],[49.6,4.9],[50.3,4.6],[51.0,4.8],[51.7,5.1],[52.4,4.8],[53.1,5.0],[53.8,4.7],[54.5,4.9],[55.2,5.2],[55.9,4.9],[56.6,5.1],[57.3,4.8],[58.0,5.0],[58.7,5.3],[59.4,5.0],[60.1,5.2],[60.8,4.9],[61.5,5.1],[62.2,4.8],[62.9,5.0],[63.6,4.7],[64.3,4.9],[65.0,4.6],[65.7,4.8],[69.6,4.9],[70.3,5.1],[71.0,4.8],[71.7,5.0],[72.4,4.7],[73.1,4.9],[73.8,5.1],[74.5,4.8],[75.2,5.0]];
const lcsCore5 = [[29.0,5.2],[29.7,5.4],[30.4,5.1],[34.8,5.6],[35.5,5.4],[36.2,5.7],[36.9,5.5],[37.6,5.3],[38.3,5.6],[39.0,5.8],[39.7,5.5],[40.4,5.4],[41.1,5.7],[41.8,5.5],[42.5,5.3],[43.2,5.6],[43.9,5.8],[44.6,5.5],[45.3,5.7],[46.0,6.0],[46.7,5.7],[47.4,5.9],[48.1,5.6],[48.8,5.8],[49.5,6.1],[50.2,5.8],[50.9,6.0],[51.6,6.3],[52.3,6.0],[53.0,6.2],[53.7,5.9],[54.4,6.1],[55.1,6.4],[55.8,6.1],[56.5,6.3],[57.2,6.0],[57.9,6.2],[58.6,6.5],[59.3,6.2],[60.0,6.4],[60.7,6.1],[61.4,6.3],[62.1,6.0],[62.8,6.2],[63.5,5.9],[64.2,6.1],[64.9,5.8],[69.8,6.0],[70.5,6.2],[71.2,5.9],[71.9,6.1],[72.6,5.8],[73.3,6.0],[74.0,6.2],[74.7,5.9]];
const lcsCore6 = [[37.5,6.7],[38.2,6.5],[38.9,6.8],[39.6,6.6],[40.3,6.4],[41.0,6.7],[41.7,6.9],[42.4,6.6],[43.1,6.5],[43.8,6.8],[44.5,7.0],[45.2,6.7],[45.9,6.9],[46.6,7.2],[47.3,6.9],[48.0,7.1],[48.7,6.8],[49.4,7.0],[50.1,7.3],[50.8,7.0],[51.5,7.2],[52.2,7.4],[52.9,7.1],[53.6,7.3],[54.3,7.0],[55.0,7.2],[56.4,7.4],[57.1,7.1],[57.8,7.3],[58.5,7.6],[59.2,7.3],[59.9,7.5],[60.6,7.8],[61.3,7.5],[62.0,7.7],[62.7,7.4],[63.4,7.1],[64.1,6.9],[64.8,7.2],[65.5,7.0],[69.3,7.0],[70.0,7.3],[70.7,7.1]];
const lcsCore7 = [[41.5,7.8],[42.2,8.0],[42.9,7.7],[43.6,8.0],[44.3,8.3],[45.0,8.0],[45.7,8.3],[46.4,8.6],[47.1,8.2],[51.2,8.2],[51.9,8.4],[52.6,8.6],[53.3,8.3],[54.0,8.5],[57.8,8.6],[58.5,8.8],[59.2,9.0],[59.9,8.7],[60.6,8.9],[61.3,9.2],[62.0,8.9],[62.7,9.1],[63.4,8.8],[68.4,8.4],[69.1,8.6],[69.8,8.9],[70.5,8.6],[71.2,8.3],[45.5,9.4],[46.2,9.7],[58.6,9.8],[59.3,10.1],[60.0,9.8],[60.7,10.2],[61.4,10.0],[62.1,9.7],[69.4,9.5],[70.1,9.8]];

const sharpLight = 'rgba(38, 48, 84, 0.5)';
const sharpHeavy = 'rgba(38, 48, 84, 0.88)';
const lcsLight = 'rgba(217, 95, 2, 0.33)';
const lcsHeavy = 'rgba(217, 95, 2, 0.85)';

const toPoints = groups => groups.flat().map(p => ({ x: p[0], y: p[1] }));
const fontFamily = '"Liberation Sans", Arial, Helvetica, sans-serif';

// panel tag, x title and the rotated y title with sub/superscripts
const panelText = {
	id: 'panelText',
	afterDraw(chart, args, opts) {
		const c = chart.ctx;
		c.save();
		c.fillStyle = '#000';
		c.textAlign = 'center';
		c.textBaseline = 'middle';
		c.font = '16px ' + fontFamily;
		c.fillText(opts.tag, opts.tagX, 21);
		c.font = '19px ' + fontFamily;
		c.fillText('Sensor relative humidity   (%)', opts.xTitleX, 521);

		c.translate(opts.yTitleX, opts.yTitleY);
		c.rotate(-Math.PI / 2);
		c.textAlign = 'left';
		c.textBaseline = 'alphabetic';
		let total = 0;
		opts.yTitle.forEach(p => {
			c.font = p.size + 'px ' + fontFamily;
			total += c.measureText(p.text).width;
		});
		let pos = -total / 2;
		opts.yTitle.forEach(p => {
			c.font = p.size + 'px ' + fontFamily;
			c.fillText(p.text, pos, 6.5 + (p.dy || 0));
			pos += c.measureText(p.text).width;
		});
		c.restore();
	}
};

function makeOptions(cfg) {
	return {
		responsive: false,
		animation: false,
		layout: { padding: { top: 16, right: 0, bottom: 0, left: 0 } },
		elements: { point: { radius: 4, hoverRadius: 4, borderWidth: 0 } },
		plugins: {
			legend: { display: false },
			tooltip: { enabled: false },
			panelText: cfg.text
		},
		scales: {
			x: {
				type: 'linear',
				min: cfg.xMin,
				max: cfg.xMax,
				afterFit: s => { s.height = 53; },
				afterBuildTicks: s => { s.ticks = rhTicks.map(v => ({ value: v })); },
				ticks: { color: '#4d4d4d', font: { size: 18, family: fontFamily }, padding: 3, maxRotation: 0 },
				grid: { drawOnChartArea: false, drawTicks: true, tickLength: 5, tickColor: '#333', tickWidth: 1.2 },
				border: { display: true, color: '#000', width: 1.6 }
			},
			y: {
				type: 'linear',
				min: -4.19,
				max: 84.0,
				afterFit: s => { s.width = cfg.yWidth; },
				afterBuildTicks: s => { s.ticks = pmTicks.map(v => ({ value: v })); },
				ticks: { color: '#4d4d4d', font: { size: 18, family: fontFamily }, padding: 5 },
				grid: { drawOnChartArea: false, drawTicks: true, tickLength: 5, tickColor: '#333', tickWidth: 1.2 },
				border: { display: true, color: '#000', width: 1.6 }
			}
		}
	};
}

const ctxA = document.getElementById('sharpChart').getContext('2d');
const sharpChart = new Chart(ctxA, {
	type: 'scatter',
	data: {
		datasets: [{
			data: toPoints([sharpArc, sharpSpike, sharpRidge, sharpUpperLeft, sharpRight, sharpFringe]),
			backgroundColor: sharpLight
		}, {
			data: toPoints([sharpDark, sharpCore0, sharpCore1, sharpCore2, sharpCore3, sharpCore4, sharpCore5, sharpCore6, sharpCore7, sharpCore8, sharpCore9]),
			backgroundColor: sharpHeavy
		}]
	},
	options: makeOptions({
		xMin: 25.49, xMax: 86.45, yWidth: 72,
		text: {
			tag: '(a)', tagX: 24, xTitleX: 300, yTitleX: 19, yTitleY: 247,
			yTitle: [
				{ text: 'SHARP PM', size: 18 },
				{ text: '2.5', size: 12, dy: 4 },
				{ text: ' (\u00b5g m', size: 18 },
				{ text: '\u22123', size: 12, dy: -8 },
				{ text: ')', size: 18 }
			]
		}
	}),
	plugins: [panelText]
});

const ctxB = document.getElementById('lcsChart').getContext('2d');
const lcsChart = new Chart(ctxB, {
	type: 'scatter',
	data: {
		datasets: [{
			data: toPoints([lcsArc, lcsColumn, lcsLoop, lcsRise, lcsPeak, lcsDiag, lcsLoops, lcsFill]),
			backgroundColor: lcsLight
		}, {
			data: toPoints([lcsDark, lcsCore0, lcsCore1, lcsCore2, lcsCore3, lcsCore4, lcsCore5, lcsCore6, lcsCore7]),
			backgroundColor: lcsHeavy
		}]
	},
	options: makeOptions({
		xMin: 25.59, xMax: 84.66, yWidth: 84.5,
		text: {
			tag: '(b)', tagX: 34, xTitleX: 314, yTitleX: 35, yTitleY: 240,
			yTitle: [
				{ text: 'Low\u2212cost sensor PM ', size: 18 },
				{ text: '2.5', size: 12, dy: 4 },
				{ text: ' (\u00b5g m', size: 18 },
				{ text: '\u22123', size: 12, dy: -8 },
				{ text: ')', size: 18 }
			]
		}
	}),
	plugins: [panelText]
});
</script>
</body>
</html>
